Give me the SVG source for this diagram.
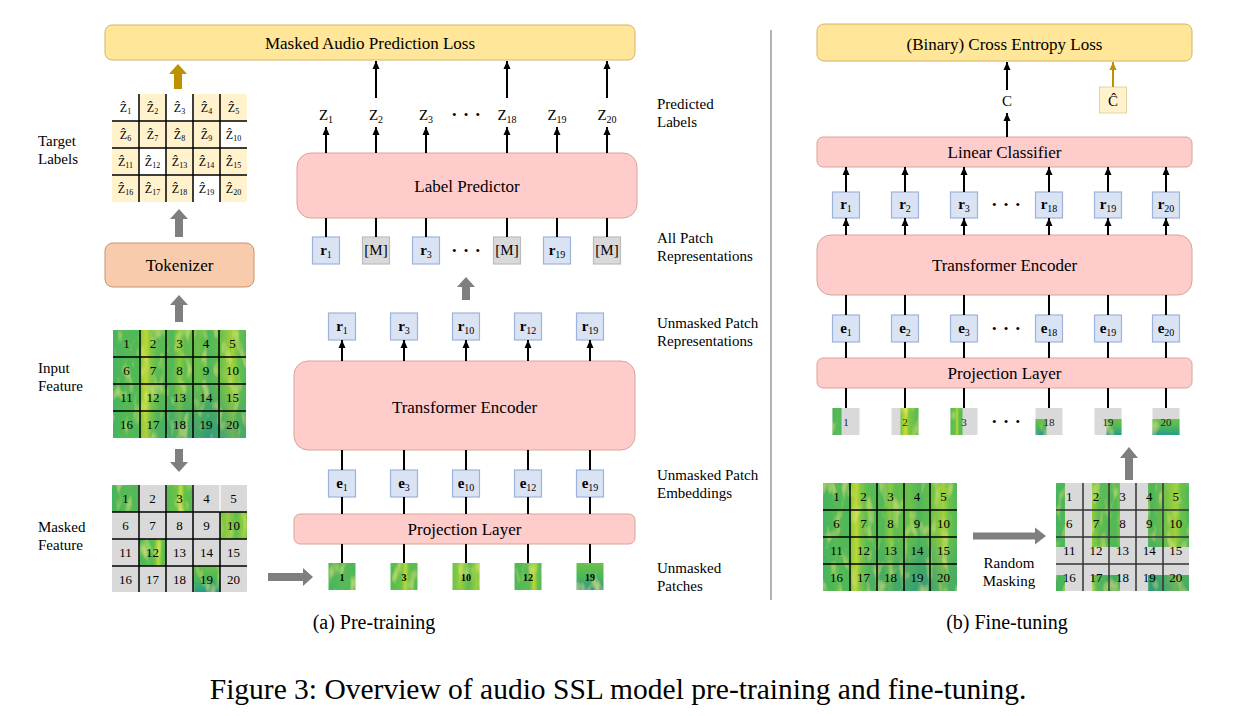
<svg xmlns="http://www.w3.org/2000/svg" width="1250" height="716" viewBox="0 0 1250 716">
<defs>
<style>
.t{font-family:"Liberation Serif","DejaVu Serif","Times New Roman",serif;fill:#000}
.box{font-size:17px;text-anchor:middle}
.lbl{font-size:15px}
.num{font-size:13px;text-anchor:middle}
.pn{font-size:10px;font-weight:bold;text-anchor:middle}
.fn{font-size:11px;text-anchor:middle;fill:#222}
.zl{font-size:12px;text-anchor:middle}
.vec{font-size:15px;text-anchor:middle}
.pink{fill:#ffcccc;stroke:#d9a493;stroke-width:1}
.yel{fill:#ffe699;stroke:#d4b466;stroke-width:1}
.tok{fill:#f8cbad;stroke:#c99272;stroke-width:1}
.blue{fill:#dae3f3;stroke:#9db3d9;stroke-width:1.2}
.gray{fill:#d9d9d9;stroke:#bcbcbc;stroke-width:1.2}
.msk{fill:#d9d9d9}
.ln{stroke:#000;stroke-width:2;fill:none}
.ar{stroke:#000;stroke-width:2;fill:none;marker-end:url(#ah)}
.grid{stroke:#000;stroke-width:1.5;fill:none}
.big{fill:#7f7f7f}
</style>
<marker id="ah" markerUnits="userSpaceOnUse" markerWidth="8" markerHeight="8" refX="8" refY="4" orient="auto"><path d="M0,0.5 L8,4 L0,7.5 z" fill="#000"/></marker>
<marker id="ahg" markerUnits="userSpaceOnUse" markerWidth="8" markerHeight="8" refX="8" refY="4" orient="auto"><path d="M0,0.5 L8,4 L0,7.5 z" fill="#bf9000"/></marker>
<linearGradient id="spH" x1="0" y1="0" x2="1" y2="0">
<stop offset="0" stop-color="#45b35e"/><stop offset="0.1" stop-color="#55ba55"/><stop offset="0.19" stop-color="#4fb85a"/>
<stop offset="0.22" stop-color="#9ccf3d"/><stop offset="0.25" stop-color="#bcd835"/><stop offset="0.28" stop-color="#86c843"/>
<stop offset="0.33" stop-color="#5cbc52"/><stop offset="0.45" stop-color="#52b858"/><stop offset="0.5" stop-color="#8ccb40"/>
<stop offset="0.54" stop-color="#5fbd50"/><stop offset="0.65" stop-color="#6bc14a"/><stop offset="0.72" stop-color="#50b65a"/>
<stop offset="0.8" stop-color="#66bf4e"/><stop offset="0.9" stop-color="#a2d03b"/><stop offset="0.94" stop-color="#6bc24a"/>
<stop offset="1" stop-color="#52b859"/>
</linearGradient>
<radialGradient id="spV" cx="0.72" cy="1" r="0.55">
<stop offset="0" stop-color="#1a8a8c" stop-opacity="0.6"/><stop offset="1" stop-color="#1a8a8c" stop-opacity="0"/>
</radialGradient>
<linearGradient id="pg1" x1="0" y1="0" x2="1" y2="0"><stop offset="0" stop-color="#45b35e"/><stop offset="0.5" stop-color="#57bb55"/><stop offset="1" stop-color="#4fb85a"/></linearGradient>
<linearGradient id="pg3" x1="0" y1="0" x2="1" y2="0"><stop offset="0" stop-color="#55bb52"/><stop offset="0.4" stop-color="#6cc24a"/><stop offset="0.55" stop-color="#bcd835"/><stop offset="0.7" stop-color="#62bf4e"/><stop offset="1" stop-color="#55bb52"/></linearGradient>
<linearGradient id="pg10" x1="0" y1="0" x2="1" y2="0"><stop offset="0" stop-color="#6cc24a"/><stop offset="0.3" stop-color="#96cd3e"/><stop offset="0.6" stop-color="#5dbd50"/><stop offset="0.9" stop-color="#9ccf3c"/><stop offset="1" stop-color="#6cc24a"/></linearGradient>
<linearGradient id="pg12" x1="0" y1="0" x2="1" y2="0"><stop offset="0" stop-color="#4fb85a"/><stop offset="0.55" stop-color="#5cbd51"/><stop offset="0.72" stop-color="#bcd835"/><stop offset="0.85" stop-color="#6cc24a"/><stop offset="1" stop-color="#4fb85a"/></linearGradient>
<linearGradient id="pg19" x1="0" y1="0" x2="0" y2="1"><stop offset="0" stop-color="#6cc24a"/><stop offset="0.5" stop-color="#4cb65b"/><stop offset="1" stop-color="#289c88"/></linearGradient>
<linearGradient id="pg2" x1="0" y1="0" x2="1" y2="0"><stop offset="0" stop-color="#6cc24a"/><stop offset="0.3" stop-color="#d6df25"/><stop offset="0.45" stop-color="#7fc744"/><stop offset="1" stop-color="#55bb52"/></linearGradient>
<filter id="tx" x="0" y="0" width="1" height="1">
<feTurbulence type="fractalNoise" baseFrequency="0.12 0.05" numOctaves="2" seed="5" result="n"/>
<feColorMatrix in="n" type="matrix" values="0 0 0 0 0.8  0 0 0 0 0.87  0 0 0 0 0.22  1.6 0 0 0 -0.85" result="y"/>
<feComposite in="y" in2="SourceGraphic" operator="in" result="yc"/>
<feMerge><feMergeNode in="SourceGraphic"/><feMergeNode in="yc"/></feMerge>
</filter>
</defs>
<rect width="1250" height="716" fill="#fff"/>

<!-- ================= PRE-TRAINING ================= -->
<g id="mapl">
<rect class="yel" x="105" y="25" width="530" height="35" rx="7"/>
<text class="t box" x="370" y="49">Masked Audio Prediction Loss</text>
</g>

<g id="target-labels">
<rect x="112" y="94" width="135" height="108" fill="#fff2cc"/>
<rect x="112" y="94" width="27" height="27" fill="#fff"/>
<rect x="166" y="94" width="27" height="27" fill="#fff"/>
<rect x="220" y="121" width="27" height="27" fill="#fff"/>
<rect x="139" y="148" width="27" height="27" fill="#fff"/>
<rect x="193" y="175" width="27" height="27" fill="#fff"/>
<path class="grid" d="M139,94V202M166,94V202M193,94V202M220,94V202M112,121H247M112,148H247M112,175H247"/>
<g class="t zl">
<text x="125.5" y="111.5">Ẑ<tspan font-size="8" dy="2">1</tspan></text>
<text x="152.5" y="111.5">Ẑ<tspan font-size="8" dy="2">2</tspan></text>
<text x="179.5" y="111.5">Ẑ<tspan font-size="8" dy="2">3</tspan></text>
<text x="206.5" y="111.5">Ẑ<tspan font-size="8" dy="2">4</tspan></text>
<text x="233.5" y="111.5">Ẑ<tspan font-size="8" dy="2">5</tspan></text>
<text x="125.5" y="138.5">Ẑ<tspan font-size="8" dy="2">6</tspan></text>
<text x="152.5" y="138.5">Ẑ<tspan font-size="8" dy="2">7</tspan></text>
<text x="179.5" y="138.5">Ẑ<tspan font-size="8" dy="2">8</tspan></text>
<text x="206.5" y="138.5">Ẑ<tspan font-size="8" dy="2">9</tspan></text>
<text x="233.5" y="138.5">Ẑ<tspan font-size="8" dy="2">10</tspan></text>
<text x="125.5" y="165.5">Ẑ<tspan font-size="8" dy="2">11</tspan></text>
<text x="152.5" y="165.5">Ẑ<tspan font-size="8" dy="2">12</tspan></text>
<text x="179.5" y="165.5">Ẑ<tspan font-size="8" dy="2">13</tspan></text>
<text x="206.5" y="165.5">Ẑ<tspan font-size="8" dy="2">14</tspan></text>
<text x="233.5" y="165.5">Ẑ<tspan font-size="8" dy="2">15</tspan></text>
<text x="125.5" y="192.5">Ẑ<tspan font-size="8" dy="2">16</tspan></text>
<text x="152.5" y="192.5">Ẑ<tspan font-size="8" dy="2">17</tspan></text>
<text x="179.5" y="192.5">Ẑ<tspan font-size="8" dy="2">18</tspan></text>
<text x="206.5" y="192.5">Ẑ<tspan font-size="8" dy="2">19</tspan></text>
<text x="233.5" y="192.5">Ẑ<tspan font-size="8" dy="2">20</tspan></text>
</g>
<text class="t lbl" x="38" y="146">Target</text>
<text class="t lbl" x="38" y="164">Labels</text>
</g>

<g id="tokenizer">
<rect class="tok" x="105" y="243" width="149" height="44" rx="8"/>
<text class="t box" x="179.5" y="271">Tokenizer</text>
</g>

<g id="input-feature">
<g filter="url(#tx)">
<rect x="113" y="330" width="133" height="108" fill="url(#spH)"/>
<rect x="113" y="330" width="133" height="108" fill="url(#spV)"/>
</g>
<path class="grid" d="M140,330V438M166,330V438M193,330V438M219,330V438M113,357H246M113,384H246M113,411H246"/>
<g class="t num">
<text x="126.5" y="348">1</text><text x="153" y="348">2</text><text x="179.5" y="348">3</text><text x="206" y="348">4</text><text x="232.5" y="348">5</text>
<text x="126.5" y="375">6</text><text x="153" y="375">7</text><text x="179.5" y="375">8</text><text x="206" y="375">9</text><text x="232.5" y="375">10</text>
<text x="126.5" y="402">11</text><text x="153" y="402">12</text><text x="179.5" y="402">13</text><text x="206" y="402">14</text><text x="232.5" y="402">15</text>
<text x="126.5" y="429">16</text><text x="153" y="429">17</text><text x="179.5" y="429">18</text><text x="206" y="429">19</text><text x="232.5" y="429">20</text>
</g>
<text class="t lbl" x="38" y="373">Input</text>
<text class="t lbl" x="38" y="391">Feature</text>
</g>

<g id="masked-feature">
<rect x="112" y="485" width="135" height="107" fill="#d9d9d9"/>
<g filter="url(#tx)">
<rect x="112" y="485" width="27" height="27" fill="url(#pg1)"/>
<rect x="166" y="485" width="27" height="27" fill="url(#pg3)"/>
<rect x="220" y="512" width="27" height="27" fill="url(#pg10)"/>
<rect x="139" y="539" width="27" height="27" fill="url(#pg12)"/>
<rect x="193" y="566" width="27" height="26" fill="url(#pg19)"/>
</g>
<path d="M139,485V512M166,485V512M193,485V512M220,485V512" stroke="#fff" stroke-width="1.2"/>
<path class="grid" stroke-width="1.2" d="M139,512V592M166,512V592M193,512V592M220,512V592M112,512H247M112,539H247M112,566H247M139,485V512M166,485V512M193,485V512"/>
<g class="t num" fill="#222">
<text x="125.5" y="503">1</text><text x="152.5" y="503">2</text><text x="179.5" y="503">3</text><text x="206.5" y="503">4</text><text x="233.5" y="503">5</text>
<text x="125.5" y="530">6</text><text x="152.5" y="530">7</text><text x="179.5" y="530">8</text><text x="206.5" y="530">9</text><text x="233.5" y="530">10</text>
<text x="125.5" y="557">11</text><text x="152.5" y="557">12</text><text x="179.5" y="557">13</text><text x="206.5" y="557">14</text><text x="233.5" y="557">15</text>
<text x="125.5" y="584">16</text><text x="152.5" y="584">17</text><text x="179.5" y="584">18</text><text x="206.5" y="584">19</text><text x="233.5" y="584">20</text>
</g>
<text class="t lbl" x="38" y="532">Masked</text>
<text class="t lbl" x="38" y="550">Feature</text>
</g>

<g id="unmasked-patches">
<g filter="url(#tx)">
<rect x="328.5" y="563" width="27" height="27" fill="url(#pg1)"/>
<rect x="390.5" y="563" width="27" height="27" fill="url(#pg3)"/>
<rect x="452.5" y="563" width="27" height="27" fill="url(#pg10)"/>
<rect x="514.5" y="563" width="27" height="27" fill="url(#pg12)"/>
<rect x="576.5" y="563" width="27" height="27" fill="url(#pg19)"/>
</g>
<g class="t pn">
<text x="342" y="581">1</text><text x="404" y="581">3</text><text x="466" y="581">10</text><text x="528" y="581">12</text><text x="590" y="581">19</text>
</g>
</g>

<g id="proj-pre">
<rect class="pink" x="294" y="514" width="341" height="30" rx="6"/>
<text class="t box" x="464.5" y="535">Projection Layer</text>
</g>

<g id="emb-pre">
<rect class="blue" x="328.5" y="470" width="27" height="27"/>
<rect class="blue" x="390.5" y="470" width="27" height="27"/>
<rect class="blue" x="452.5" y="470" width="27" height="27"/>
<rect class="blue" x="514.5" y="470" width="27" height="27"/>
<rect class="blue" x="576.5" y="470" width="27" height="27"/>
<g class="t vec" font-weight="bold">
<text x="342" y="488">e<tspan font-size="10" font-weight="normal" dy="3">1</tspan></text>
<text x="404" y="488">e<tspan font-size="10" font-weight="normal" dy="3">3</tspan></text>
<text x="466" y="488">e<tspan font-size="10" font-weight="normal" dy="3">10</tspan></text>
<text x="528" y="488">e<tspan font-size="10" font-weight="normal" dy="3">12</tspan></text>
<text x="590" y="488">e<tspan font-size="10" font-weight="normal" dy="3">19</tspan></text>
</g>
</g>

<g id="te-pre">
<rect class="pink" x="294" y="361" width="341" height="89" rx="14"/>
<text class="t box" x="464.5" y="413">Transformer Encoder</text>
</g>

<g id="rep-pre">
<rect class="blue" x="328.5" y="313" width="27" height="27"/>
<rect class="blue" x="390.5" y="313" width="27" height="27"/>
<rect class="blue" x="452.5" y="313" width="27" height="27"/>
<rect class="blue" x="514.5" y="313" width="27" height="27"/>
<rect class="blue" x="576.5" y="313" width="27" height="27"/>
<g class="t vec" font-weight="bold">
<text x="342" y="331">r<tspan font-size="10" font-weight="normal" dy="3">1</tspan></text>
<text x="404" y="331">r<tspan font-size="10" font-weight="normal" dy="3">3</tspan></text>
<text x="466" y="331">r<tspan font-size="10" font-weight="normal" dy="3">10</tspan></text>
<text x="528" y="331">r<tspan font-size="10" font-weight="normal" dy="3">12</tspan></text>
<text x="590" y="331">r<tspan font-size="10" font-weight="normal" dy="3">19</tspan></text>
</g>
</g>

<g id="all-rep">
<rect class="blue" x="312.5" y="237" width="27" height="27"/>
<rect class="gray" x="362.5" y="237" width="27" height="27"/>
<rect class="blue" x="412.5" y="237" width="27" height="27"/>
<rect class="gray" x="493.5" y="237" width="27" height="27"/>
<rect class="blue" x="543.5" y="237" width="27" height="27"/>
<rect class="gray" x="593.5" y="237" width="27" height="27"/>
<g class="t vec">
<text x="326" y="255" font-weight="bold">r<tspan font-size="10" font-weight="normal" dy="3">1</tspan></text>
<text x="376" y="255">[M]</text>
<text x="426" y="255" font-weight="bold">r<tspan font-size="10" font-weight="normal" dy="3">3</tspan></text>
<text x="507" y="255">[M]</text>
<text x="557" y="255" font-weight="bold">r<tspan font-size="10" font-weight="normal" dy="3">19</tspan></text>
<text x="607" y="255">[M]</text>
<text x="467" y="255" font-size="13" letter-spacing="2">• • •</text>
</g>
</g>

<g id="label-predictor">
<rect class="pink" x="297" y="153" width="340" height="65" rx="14"/>
<text class="t box" x="467" y="192">Label Predictor</text>
</g>

<g id="pred-labels" class="t vec" font-size="14">
<text x="326" y="120">Z<tspan font-size="10" dy="3">1</tspan></text>
<text x="376" y="120">Z<tspan font-size="10" dy="3">2</tspan></text>
<text x="426" y="120">Z<tspan font-size="10" dy="3">3</tspan></text>
<text x="467" y="119" font-size="13" letter-spacing="2">• • •</text>
<text x="507" y="120">Z<tspan font-size="10" dy="3">18</tspan></text>
<text x="557" y="120">Z<tspan font-size="10" dy="3">19</tspan></text>
<text x="607" y="120">Z<tspan font-size="10" dy="3">20</tspan></text>
</g>

<g id="side-labels" class="t lbl">
<text x="657" y="109">Predicted</text><text x="657" y="127">Labels</text>
<text x="657" y="243">All Patch</text><text x="657" y="261">Representations</text>
<text x="657" y="328">Unmasked Patch</text><text x="657" y="346">Representations</text>
<text x="657" y="480">Unmasked Patch</text><text x="657" y="498">Embeddings</text>
<text x="657" y="573">Unmasked</text><text x="657" y="591">Patches</text>
</g>

<!-- ================= FINE-TUNING ================= -->
<g id="bce">
<rect class="yel" x="817" y="24" width="375" height="37" rx="7"/>
<text class="t box" x="1004.5" y="50">(Binary) Cross Entropy Loss</text>
</g>
<g id="c-out"><text class="t vec" x="1007" y="106" font-size="14">C</text></g>
<g id="c-hat">
<rect x="1099.5" y="87" width="27" height="26" fill="#fff2cc" stroke="#e3d3a3" stroke-width="1"/>
<text class="t vec" x="1113" y="106" font-size="14">Ĉ</text>
</g>
<g id="linear-classifier">
<rect class="pink" x="817" y="137" width="375" height="30" rx="6"/>
<text class="t box" x="1004.5" y="158">Linear Classifier</text>
</g>
<g id="rep-ft">
<rect class="blue" x="832.5" y="192" width="27" height="26"/>
<rect class="blue" x="891.5" y="192" width="27" height="26"/>
<rect class="blue" x="950.5" y="192" width="27" height="26"/>
<rect class="blue" x="1035.5" y="192" width="27" height="26"/>
<rect class="blue" x="1094.5" y="192" width="27" height="26"/>
<rect class="blue" x="1152.5" y="192" width="27" height="26"/>
<g class="t vec" font-weight="bold">
<text x="846" y="209">r<tspan font-size="10" font-weight="normal" dy="3">1</tspan></text>
<text x="905" y="209">r<tspan font-size="10" font-weight="normal" dy="3">2</tspan></text>
<text x="964" y="209">r<tspan font-size="10" font-weight="normal" dy="3">3</tspan></text>
<text x="1049" y="209">r<tspan font-size="10" font-weight="normal" dy="3">18</tspan></text>
<text x="1108" y="209">r<tspan font-size="10" font-weight="normal" dy="3">19</tspan></text>
<text x="1166" y="209">r<tspan font-size="10" font-weight="normal" dy="3">20</tspan></text>
<text x="1007" y="209" font-size="13" font-weight="normal" letter-spacing="2">• • •</text>
</g>
</g>
<g id="te-ft">
<rect class="pink" x="817" y="235" width="375" height="60" rx="14"/>
<text class="t box" x="1004.5" y="271">Transformer Encoder</text>
</g>
<g id="emb-ft">
<rect class="blue" x="832.5" y="315" width="27" height="27"/>
<rect class="blue" x="891.5" y="315" width="27" height="27"/>
<rect class="blue" x="950.5" y="315" width="27" height="27"/>
<rect class="blue" x="1035.5" y="315" width="27" height="27"/>
<rect class="blue" x="1094.5" y="315" width="27" height="27"/>
<rect class="blue" x="1152.5" y="315" width="27" height="27"/>
<g class="t vec" font-weight="bold">
<text x="846" y="333">e<tspan font-size="10" font-weight="normal" dy="3">1</tspan></text>
<text x="905" y="333">e<tspan font-size="10" font-weight="normal" dy="3">2</tspan></text>
<text x="964" y="333">e<tspan font-size="10" font-weight="normal" dy="3">3</tspan></text>
<text x="1049" y="333">e<tspan font-size="10" font-weight="normal" dy="3">18</tspan></text>
<text x="1108" y="333">e<tspan font-size="10" font-weight="normal" dy="3">19</tspan></text>
<text x="1166" y="333">e<tspan font-size="10" font-weight="normal" dy="3">20</tspan></text>
<text x="1007" y="333" font-size="13" font-weight="normal" letter-spacing="2">• • •</text>
</g>
</g>
<g id="proj-ft">
<rect class="pink" x="817" y="358" width="375" height="30" rx="6"/>
<text class="t box" x="1004.5" y="379">Projection Layer</text>
</g>
<g id="patches-ft">
<rect class="msk" x="832.5" y="408" width="27" height="27"/>
<rect class="msk" x="891.5" y="408" width="27" height="27"/>
<rect class="msk" x="950.5" y="408" width="27" height="27"/>
<rect class="msk" x="1035.5" y="408" width="27" height="27"/>
<rect class="msk" x="1094.5" y="408" width="27" height="27"/>
<rect class="msk" x="1152.5" y="408" width="27" height="27"/>
<g filter="url(#tx)">
<rect x="832.5" y="408" width="9" height="27" fill="url(#pg1)"/>
<rect x="900.5" y="408" width="18" height="27" fill="url(#pg2)"/>
<rect x="950.5" y="408" width="12" height="27" fill="url(#pg3)"/>
<rect x="1035.5" y="419" width="11" height="16" fill="url(#pg19)"/>
<rect x="1106.5" y="419" width="15" height="16" fill="url(#pg19)"/>
<rect x="1152.5" y="419" width="27" height="16" fill="url(#pg19)"/>
</g>
<g class="t fn">
<text x="846" y="426">1</text><text x="905" y="426">2</text><text x="964" y="426">3</text>
<text x="1049" y="426">18</text><text x="1108" y="426">19</text><text x="1166" y="426">20</text>
<text x="1007" y="426" font-size="13" letter-spacing="2" fill="#000">• • •</text>
</g>
</g>
<g id="ft-input">
<g filter="url(#tx)">
<rect x="823" y="483" width="134" height="108" fill="url(#spH)"/>
<rect x="823" y="483" width="134" height="108" fill="url(#spV)"/>
</g>
<path class="grid" d="M850,483V591M877,483V591M904,483V591M930,483V591M823,510H957M823,537H957M823,564H957"/>
<g class="t num">
<text x="836.5" y="501">1</text><text x="863.5" y="501">2</text><text x="890.5" y="501">3</text><text x="917" y="501">4</text><text x="943.5" y="501">5</text>
<text x="836.5" y="528">6</text><text x="863.5" y="528">7</text><text x="890.5" y="528">8</text><text x="917" y="528">9</text><text x="943.5" y="528">10</text>
<text x="836.5" y="555">11</text><text x="863.5" y="555">12</text><text x="890.5" y="555">13</text><text x="917" y="555">14</text><text x="943.5" y="555">15</text>
<text x="836.5" y="582">16</text><text x="863.5" y="582">17</text><text x="890.5" y="582">18</text><text x="917" y="582">19</text><text x="943.5" y="582">20</text>
</g>
</g>
<g id="random-masking">
<text class="t lbl" x="1009" y="568" text-anchor="middle">Random</text>
<text class="t lbl" x="1009" y="586" text-anchor="middle">Masking</text>
</g>
<g id="ft-masked">
<g filter="url(#tx)">
<rect x="1056" y="483" width="133" height="108" fill="url(#spH)"/>
<rect x="1056" y="483" width="133" height="108" fill="url(#spV)"/>
</g>
<rect class="msk" x="1065" y="483" width="27" height="108"/>
<rect class="msk" x="1120" y="483" width="28" height="108"/>
<rect class="msk" x="1056" y="547" width="133" height="28"/>
<path d="M1083,483V591M1109,483V591M1136,483V591M1163,483V591M1056,510H1189M1056,537H1189M1056,564H1189" stroke="#333" stroke-width="1.5" fill="none"/>
<g class="t num">
<text x="1069.3" y="501">1</text><text x="1096" y="501">2</text><text x="1122.5" y="501">3</text><text x="1149.2" y="501">4</text><text x="1175.8" y="501">5</text>
<text x="1069.3" y="528">6</text><text x="1096" y="528">7</text><text x="1122.5" y="528">8</text><text x="1149.2" y="528">9</text><text x="1175.8" y="528">10</text>
<text x="1069.3" y="555">11</text><text x="1096" y="555">12</text><text x="1122.5" y="555">13</text><text x="1149.2" y="555">14</text><text x="1175.8" y="555">15</text>
<text x="1069.3" y="582">16</text><text x="1096" y="582">17</text><text x="1122.5" y="582">18</text><text x="1149.2" y="582">19</text><text x="1175.8" y="582">20</text>
</g>
</g>

<!-- ================= CONNECTORS ================= -->
<g id="connectors">
<polygon fill="#bf9000" points="178,64 187,74 182,74 182,89 174,89 174,74 169,74"/>
<polygon class="big" points="179,209 188,219 183,219 183,237 175,237 175,219 170,219"/>
<polygon class="big" points="179,295 188,305 183,305 183,322 175,322 175,305 170,305"/>
<polygon class="big" points="179,472 188,462 183,462 183,449 175,449 175,462 170,462"/>
<polygon class="big" points="313,577 303,568 303,573 268,573 268,581 303,581 303,586"/>
<polygon class="big" points="466,277 475,287 470,287 470,300 462,300 462,287 457,287"/>
<polygon class="big" points="1129,447 1138,458 1133,458 1133,480 1125,480 1125,458 1120,458"/>
<polygon class="big" points="1046,536 1035,527.5 1035,532.5 973,532.5 973,539.5 1035,539.5 1035,544.5"/>
<path class="ln" d="M342,563V544M404,563V544M466,563V544M528,563V544M590,563V544"/>
<path class="ln" d="M342,514V497M404,514V497M466,514V497M528,514V497M590,514V497"/>
<path class="ln" d="M342,470V450M404,470V450M466,470V450M528,470V450M590,470V450"/>
<path class="ar" d="M342,361V340"/><path class="ar" d="M404,361V340"/><path class="ar" d="M466,361V340"/><path class="ar" d="M528,361V340"/><path class="ar" d="M590,361V340"/>
<path class="ln" d="M326,237V218M376,237V218M426,237V218M507,237V218M557,237V218M607,237V218"/>
<path class="ar" d="M326,153V127"/><path class="ar" d="M376,153V127"/><path class="ar" d="M426,153V127"/><path class="ar" d="M507,153V127"/><path class="ar" d="M557,153V127"/><path class="ar" d="M607,153V127"/>
<path class="ar" d="M376,98V61"/><path class="ar" d="M507,98V61"/><path class="ar" d="M607,98V61"/>
<path class="ar" d="M1007,90V62"/>
<path class="ar" d="M1007,137V113"/>
<path d="M1113,87V62" stroke="#bf9000" stroke-width="2" fill="none" marker-end="url(#ahg)"/>
<path class="ar" d="M846,192V167"/><path class="ar" d="M905,192V167"/><path class="ar" d="M964,192V167"/><path class="ar" d="M1049,192V167"/><path class="ar" d="M1108,192V167"/><path class="ar" d="M1166,192V167"/>
<path class="ar" d="M846,235V218"/><path class="ar" d="M905,235V218"/><path class="ar" d="M964,235V218"/><path class="ar" d="M1049,235V218"/><path class="ar" d="M1108,235V218"/><path class="ar" d="M1166,235V218"/>
<path class="ln" d="M846,315V295M905,315V295M964,315V295M1049,315V295M1108,315V295M1166,315V295"/>
<path class="ln" d="M846,358V342M905,358V342M964,358V342M1049,358V342M1108,358V342M1166,358V342"/>
<path class="ln" d="M846,408V388M905,408V388M964,408V388M1049,408V388M1108,408V388M1166,408V388"/>
</g>

<line x1="771" y1="30" x2="771" y2="600" stroke="#808080" stroke-width="1.2"/>

<g id="captions" class="t" text-anchor="middle">
<text x="374" y="629" font-size="20">(a) Pre-training</text>
<text x="1007" y="629" font-size="20">(b) Fine-tuning</text>
<text x="618" y="699" font-size="29.5">Figure 3: Overview of audio SSL model pre-training and fine-tuning.</text>
</g>
</svg>
